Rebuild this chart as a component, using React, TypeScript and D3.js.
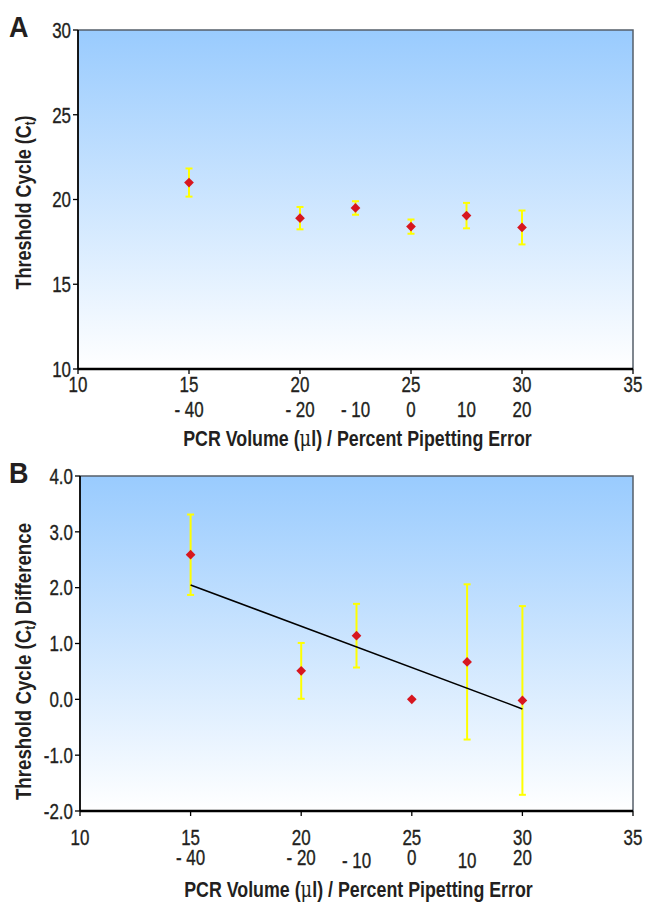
import React from 'react';
import * as d3 from 'd3';

// PCR volume (µl) and the matching pipetting error (%)
const volumes = [15, 20, 22.5, 25, 27.5, 30];
const pipettingErrors = ['- 40', '- 20', '- 10', '0', '10', '20'];

// panel A: mean threshold cycle and its error
const ctMeans = [21.0, 18.9, 19.5, 18.4, 19.05, 18.35];
const ctErrors = [0.83, 0.66, 0.4, 0.42, 0.75, 1.0];

// panel B: Ct difference and its error
const ctDiffs = [2.59, 0.51, 1.14, 0.0, 0.67, -0.02];
const ctDiffErrors = [0.72, 0.5, 0.57, 0, 1.39, 1.69];

const xTicks = [10, 15, 20, 25, 30, 35];
const yTicksA = [10, 15, 20, 25, 30];
const yTicksB = [-2, -1, 0, 1, 2, 3, 4];

const W = 647;
const H = 902;
const font = "'Liberation Sans', Arial, sans-serif";
const ink = '#231f20';
const SX = 0.77; // squeeze to look like a condensed face

// text squeezed horizontally around its anchor
function Txt(props: {
  x: number;
  y: number;
  size: number;
  bold?: boolean;
  anchor?: string;
  rotate?: number;
  sx?: number;
  children: React.ReactNode;
}) {
  const r = props.rotate ? ` rotate(${props.rotate})` : '';
  return (
    <text
      transform={`translate(${props.x},${props.y})${r} scale(${props.sx ?? SX},1)`}
      textAnchor={props.anchor ?? 'start'}
      fontFamily={font}
      fontWeight={props.bold ? 'bold' : 'normal'}
      fontSize={props.size}
      fill={ink}
      stroke={props.bold ? 'none' : ink}
      strokeWidth={0.35}
    >
      {props.children}
    </text>
  );
}

type PanelProps = {
  id: string;
  letter: string;
  top: number;
  bottom: number;
  left: number;
  yDomain: [number, number];
  yTicks: number[];
  yFormat: (d: number) => string;
  values: number[];
  errors: number[];
  title: React.ReactNode;
  titleShift: number;
  titleSx: number;
  trend?: boolean;
  rowOffsets: [number, number, number];
  lowered?: number[];
};

function regression(xs: number[], ys: number[]) {
  const mx = d3.mean(xs)!;
  const my = d3.mean(ys)!;
  const sxy = d3.sum(xs, (x, i) => (x - mx) * (ys[i] - my));
  const sxx = d3.sum(xs, x => (x - mx) * (x - mx));
  const slope = sxy / sxx;
  return (x: number) => my + slope * (x - mx);
}

function Panel(p: PanelProps) {
  const right = 633;
  const x = d3.scaleLinear().domain([10, 35]).range([p.left, right]);
  const y = d3.scaleLinear().domain(p.yDomain).range([p.bottom, p.top]);
  const gid = 'bg' + p.id;
  const diamond = d3.symbol().type(d3.symbolDiamond2).size(60)()!;
  const fit = p.trend ? regression(volumes, p.values) : null;
  const line = d3.line<number>().x(d => x(d)).y(d => y(fit!(d)));
  const xExt = d3.extent(volumes) as [number, number];

  return (
    <g>
      <defs>
        <linearGradient id={gid} x1="0" y1="0" x2="0" y2="1">
          <stop offset="0" stopColor="#99cbfe" />
          <stop offset="1" stopColor="#ffffff" />
        </linearGradient>
      </defs>
      <Txt x={9} y={p.top + 7} size={30} bold sx={0.9}>
        {p.letter}
      </Txt>
      <rect x={p.left} y={p.top} width={right - p.left} height={p.bottom - p.top} fill={`url(#${gid})`} />
      {/* top and right frame */}
      <path d={`M${p.left},${p.top}H${right}V${p.bottom}`} fill="none" stroke="#555f6a" strokeWidth={1.5} />
      {/* axes */}
      <line x1={p.left} x2={p.left} y1={p.top} y2={p.bottom} stroke="#000" strokeWidth={1.8} />
      <line x1={p.left} x2={right} y1={p.bottom} y2={p.bottom} stroke="#000" strokeWidth={2.5} />
      {p.yTicks.map(t => (
        <g key={'y' + t}>
          <line x1={p.left - 5} x2={p.left} y1={y(t)} y2={y(t)} stroke="#000" strokeWidth={1.3} />
          <Txt x={p.left - 7} y={y(t) + 7.8} size={22} anchor="end">
            {p.yFormat(t)}
          </Txt>
        </g>
      ))}
      {xTicks.map(t => (
        <g key={'x' + t}>
          <line x1={x(t)} x2={x(t)} y1={p.bottom} y2={p.bottom + 5} stroke="#000" strokeWidth={1.3} />
          <Txt x={x(t)} y={p.bottom + p.rowOffsets[0]} size={22} anchor="middle">
            {t}
          </Txt>
        </g>
      ))}
      {volumes.map((v, i) => (
        <Txt
          key={'e' + i}
          x={x(v)}
          y={p.bottom + p.rowOffsets[1] + (p.lowered && p.lowered.includes(i) ? 3 : 0)}
          size={22}
          anchor="middle"
        >
          {pipettingErrors[i]}
        </Txt>
      ))}
      <Txt x={(p.left + right) / 2 + 2} y={p.bottom + p.rowOffsets[2]} size={22} bold anchor="middle" sx={0.81}>
        PCR Volume (<tspan fontFamily="'DejaVu Serif', serif" fontWeight="normal">μ</tspan>l) / Percent Pipetting Error
      </Txt>
      <Txt x={31} y={(p.top + p.bottom) / 2 + p.titleShift} size={22} bold anchor="middle" rotate={-90} sx={p.titleSx}>
        {p.title}
      </Txt>
      {/* error bars */}
      {volumes.map((v, i) =>
        p.errors[i] > 0 ? (
          <g key={'b' + i} stroke="#ffff00" strokeWidth={2}>
            <line x1={x(v)} x2={x(v)} y1={y(p.values[i] - p.errors[i])} y2={y(p.values[i] + p.errors[i])} />
            <line x1={x(v) - 3.5} x2={x(v) + 3.5} y1={y(p.values[i] - p.errors[i])} y2={y(p.values[i] - p.errors[i])} />
            <line x1={x(v) - 3.5} x2={x(v) + 3.5} y1={y(p.values[i] + p.errors[i])} y2={y(p.values[i] + p.errors[i])} />
          </g>
        ) : null
      )}
      {fit && <path d={line(xExt)!} fill="none" stroke="#000" strokeWidth={1.6} />}
      {volumes.map((v, i) => (
        <path key={'m' + i} d={diamond} transform={`translate(${x(v)},${y(p.values[i])})`} fill="#d7161f" />
      ))}
    </g>
  );
}

export default function App() {
  const ct = (
    <>
      Threshold Cycle (C<tspan fontSize={14} dy={4}>t</tspan>
      <tspan dy={-4}>)</tspan>
    </>
  );
  const ctDiffTitle = (
    <>
      Threshold Cycle (C<tspan fontSize={14} dy={4}>t</tspan>
      <tspan dy={-4}>) Difference</tspan>
    </>
  );
  return (
    <svg width={W} height={H} style={{ position: 'absolute', left: 0, top: 0, background: '#fff' }}>
      <Panel
        id="A"
        letter="A"
        top={30}
        bottom={369}
        left={78}
        yDomain={[10, 30]}
        yTicks={yTicksA}
        yFormat={d => String(d)}
        values={ctMeans}
        errors={ctErrors}
        title={ct}
        titleShift={3}
        titleSx={0.82}
        rowOffsets={[23, 48, 77]}
      />
      <Panel
        id="B"
        letter="B"
        top={476}
        bottom={811}
        left={80}
        yDomain={[-2, 4]}
        yTicks={yTicksB}
        yFormat={d => d.toFixed(1)}
        values={ctDiffs}
        errors={ctDiffErrors}
        title={ctDiffTitle}
        titleShift={18}
        titleSx={0.85}
        trend
        rowOffsets={[34, 54, 86]}
        lowered={[2, 4]}
      />
    </svg>
  );
}
